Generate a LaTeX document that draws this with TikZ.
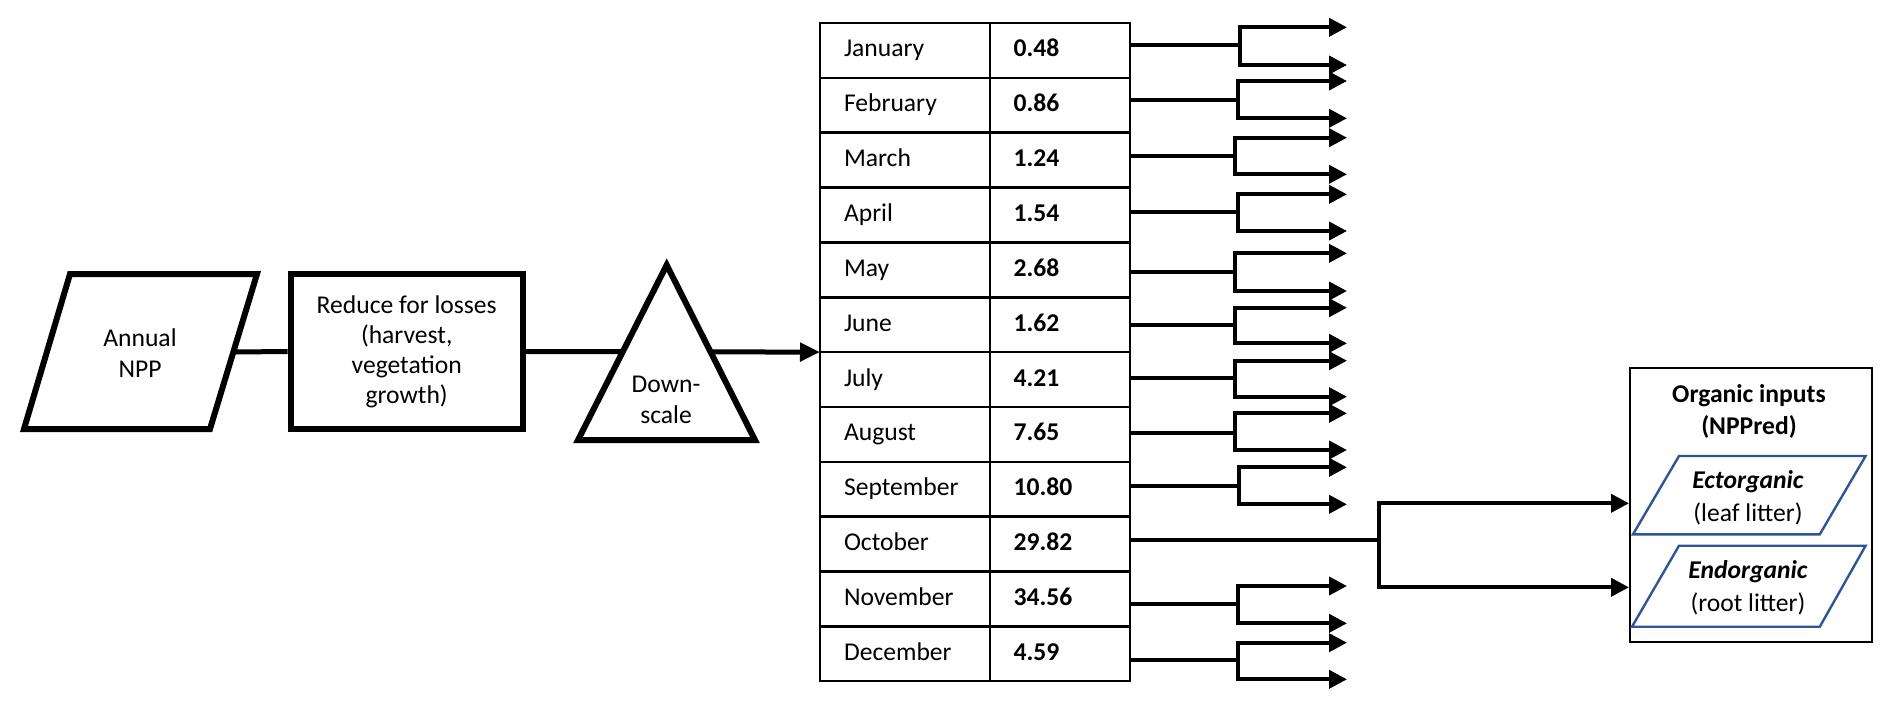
\documentclass[tikz,border=0pt]{standalone}
\usepackage{fontspec}
\setmainfont{Carlito}
\usetikzlibrary{arrows.meta}
\definecolor{bluebox}{RGB}{47,85,151}
\begin{document}
\begin{tikzpicture}[x=0.5pt,y=-0.5pt,
  every node/.style={font=\fontsize{12.8}{15.5}\selectfont},
  thickb/.style={line width=3pt,line join=miter},
  conn/.style={line width=2pt},
  arr/.style={conn,-{Triangle[length=9pt,width=9pt]}},
  larr/.style={line width=2.5pt,-{Triangle[length=10pt,width=9pt]}},
  cellm/.style={draw,line width=1.25pt,outer sep=0pt,minimum width=85pt,minimum height=27.425pt,
    text width=61pt,align=left,inner xsep=12pt,inner ysep=0pt,text height=9pt,text depth=2.5pt},
  cellv/.style={cellm,minimum width=70pt,text width=46.4pt,inner xsep=11.8pt,
    font=\fontsize{12.8}{15.5}\selectfont\bfseries},
  bluepar/.style={draw=bluebox,line width=1.2pt,line join=miter},
]
\useasboundingbox (0,0) rectangle (1892,709);

% Annual NPP parallelogram
\draw[thickb] (70,274) -- (257,274) -- (210,429) -- (24,429) -- cycle;
\node[align=center] (npp) at (140,353) {Annual\\NPP};
\coordinate (nppR) at (233.3,352);

% Reduce box
\node[draw,thickb,minimum width=116pt,minimum height=77.5pt,align=center,
  font=\fontsize{12.8}{15}\selectfont] (red) at (406.7,351.5)
  {Reduce for losses\\(harvest,\\vegetation\\growth)};
\draw[line width=2.5pt] (nppR) -- (red.west);

% Table
\foreach \i/\m/\v in {1/January/0.48,2/February/0.86,3/March/1.24,4/April/1.54,5/May/2.68,6/June/1.62,
  7/July/4.21,8/August/7.65,9/September/10.80,10/October/29.82,11/November/34.56,12/December/4.59}{
  \node[cellm] (m\i) at (905,{23+54.85*(\i-0.5)}) {\m};
  \node[cellv] (v\i) at (1060,{23+54.85*(\i-0.5)}) {\v};
}

% Arrow to table through triangle
\draw[larr] (red.east) -- (m7.north west);
\draw[thickb,fill=white] (666.7,265) -- (755,440) -- (578,440) -- cycle;
\node[align=center] (dsc) at (666,400) {Down-\\scale};

% Monthly branches
\foreach \i/\h/\t/\b/\x in {1/45/27.3/65/1240, 2/100/81/118.3/1237.5, 3/155.7/137.7/174.3/1235,
  4/212.3/194.3/231/1237.5, 5/271.7/253.3/291/1235, 6/325/307.7/343.3/1235,
  7/378.3/360.7/396.7/1235, 8/432.7/413.3/450/1235, 9/485.7/467.3/504.3/1238.6,
  11/604.3/586/623.3/1237.5, 12/660/642.7/679.3/1237.5}{
  \coordinate (j\i) at (\x,\h);
  \coordinate (t\i) at (1347,\t);
  \coordinate (u\i) at (1347,\b);
  \draw[conn] (v\i.east |- j\i) -- (j\i);
  \draw[arr] (j\i) |- (t\i);
  \draw[arr] (j\i) |- (u\i);
}

% Organic inputs box
\node[draw,line width=1pt,minimum width=120.85pt,minimum height=137pt] (org) at (1750.85,505) {};
\node[align=center,font=\fontsize{12.8}{16}\selectfont\bfseries] (orgt) at (1749,411) {Organic inputs\\(NPPred)};
\draw[bluepar] (1679,456) -- (1865.6,456) -- (1819.8,534.3) -- (1633,534.3) -- cycle;
\node[align=center,font=\fontsize{12.8}{16.3}\selectfont] (ecto) at (1748,497.5) {\textbf{\textit{Ectorganic}}\\(leaf litter)};
\draw[bluepar] (1679,545.7) -- (1865.6,545.7) -- (1819.8,626.7) -- (1632,626.7) -- cycle;
\node[align=center,font=\fontsize{12.8}{16.3}\selectfont] (endo) at (1748,588) {\textbf{\textit{Endorganic}}\\(root litter)};

% October to organic inputs
\coordinate (j10) at (1379,540);
\draw[conn] (v10.east |- j10) -- (j10);
\draw[arr] (j10) |- (org.west |- 0,503.3);
\draw[arr] (j10) |- (org.west |- 0,587.3);
\end{tikzpicture}
\end{document}
